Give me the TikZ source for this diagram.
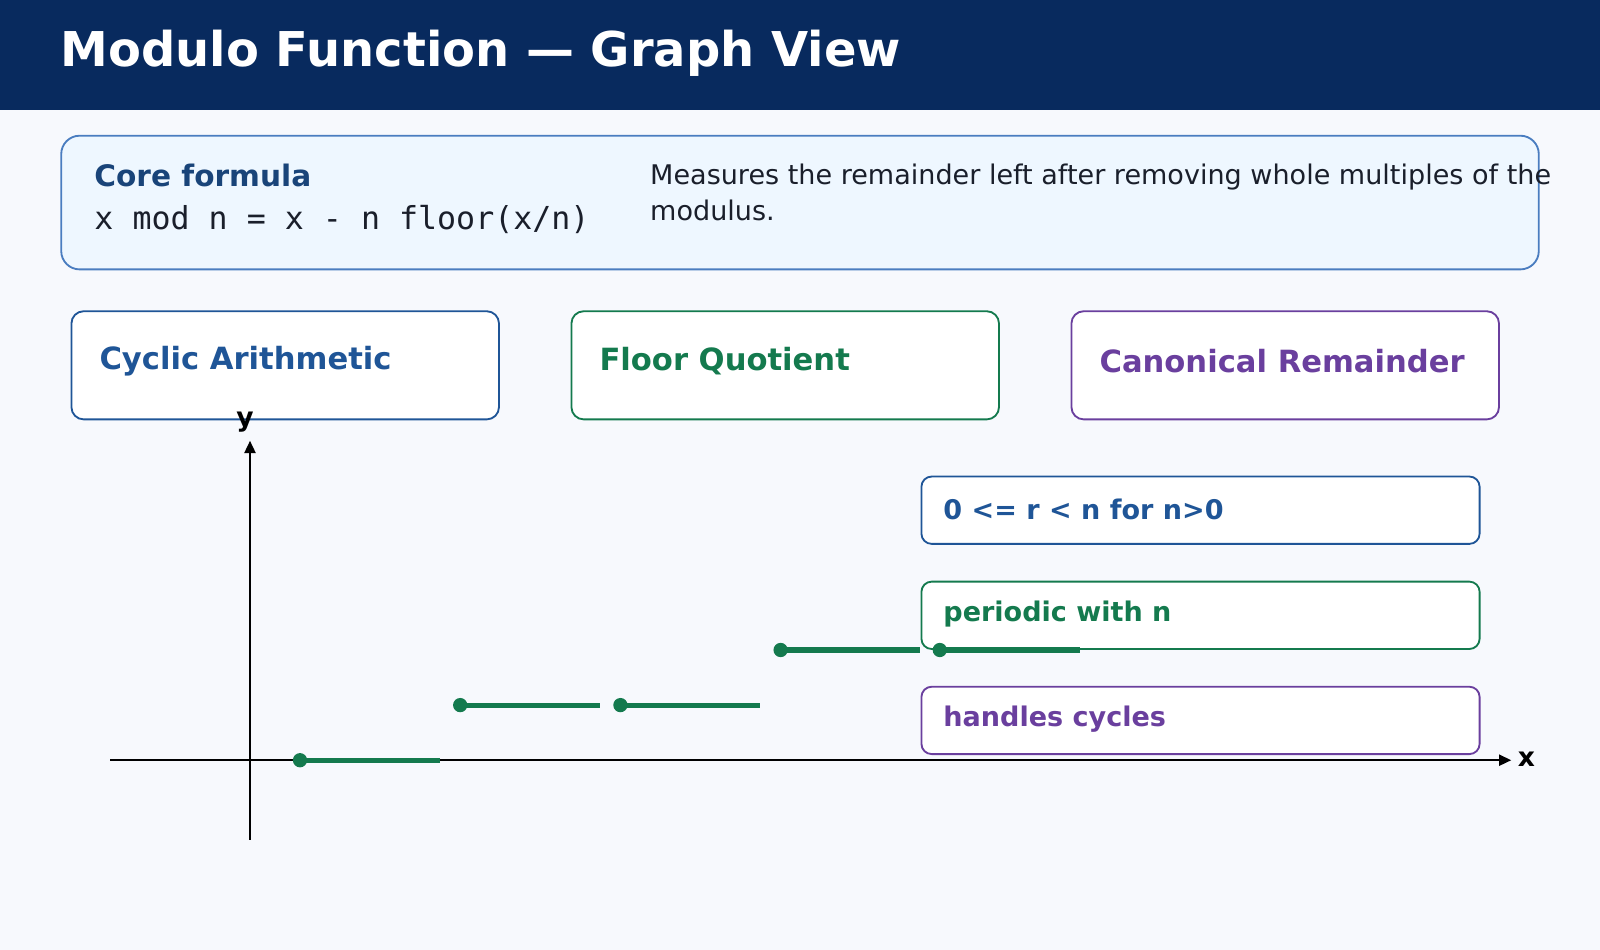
\documentclass[tikz,border=0pt]{standalone}
\usepackage{fontspec}
\setmainfont{DejaVu Sans}
\setmonofont{DejaVu Sans Mono}
\usetikzlibrary{arrows.meta}
\definecolor{navy}{HTML}{082A5E}
\definecolor{bg}{HTML}{F7F9FD}
\definecolor{corefill}{HTML}{EEF7FF}
\definecolor{coreline}{HTML}{4A7DC0}
\definecolor{cblue}{HTML}{1F5597}
\definecolor{cgreen}{HTML}{147A4E}
\definecolor{cpurple}{HTML}{6A3F9E}
\definecolor{dtext}{HTML}{1A1F2B}
\tikzset{
  card/.style={draw=#1, fill=white, line width=1.8pt, rounded corners=12pt},
  cardlabel/.style={anchor=west, text=#1, font=\fontsize{30}{34}\selectfont\bfseries},
  pill/.style={draw=#1, fill=white, line width=1.8pt, rounded corners=10pt},
  pilllabel/.style={anchor=west, text=#1, font=\fontsize{26.5}{30}\selectfont\bfseries},
  seg/.style={line width=5pt, cgreen},
  dot/.style={circle, fill=cgreen, inner sep=0pt, minimum size=14pt},
  axis/.style={line width=1.6pt, black, -{Triangle[length=12pt,width=11pt]}}
}
\begin{document}
\begin{tikzpicture}[x=1pt,y=-1pt]
\useasboundingbox (0,0) rectangle (1568,931);
\fill[bg] (0,0) rectangle (1568,931);
\fill[navy] (0,0) rectangle (1568,108);
\node[anchor=west, text=white, font=\fontsize{47}{52}\selectfont\bfseries] (title) at (56,52) {Modulo Function — Graph View};

\draw[draw=coreline, fill=corefill, line width=1.8pt, rounded corners=18pt] (60,133) rectangle (1508,264);
\node[anchor=west, text=cblue!80!black, font=\fontsize{29}{33}\selectfont\bfseries] (coreh) at (89,172) {Core formula};
\node[anchor=west, text=dtext, font=\fontsize{31}{35}\selectfont\ttfamily] (coref) at (89,215) {x mod n = x - n floor(x/n)};
\node[anchor=north west, text=dtext, font=\fontsize{26.5}{36}\selectfont, align=left, inner sep=0pt] (desc) at (637,160) {Measures the remainder left after removing whole multiples of the\\modulus.};

\draw[card=cblue] (70,305) rectangle (489,411);
\node[cardlabel=cblue] (c1) at (94,354) {Cyclic Arithmetic};
\draw[card=cgreen] (560,305) rectangle (979,411);
\node[cardlabel=cgreen] (c2) at (584,354) {Floor Quotient};
\draw[card=cpurple] (1050,305) rectangle (1469,411);
\node[cardlabel=cpurple] (c3) at (1074,354) {Canonical Remainder};

\coordinate (ybot) at (245,823);
\coordinate (ytop) at (245,432);
\coordinate (xl) at (108,745);
\coordinate (xr) at (1481,745);
\draw[axis] (ybot) -- (ytop);
\draw[axis] (xl) -- (xr);
\node[font=\fontsize{26}{30}\selectfont\bfseries] (ylab) at (240,414) {y};
\node[font=\fontsize{26}{30}\selectfont\bfseries] (xlab) at (1496,744) {x};

\draw[pill=cblue] (903,467) rectangle (1450,533);
\node[pilllabel=cblue] (p1) at (921,499) {0 <= r < n for n>0};
\draw[pill=cgreen] (903,570) rectangle (1450,636);
\node[pilllabel=cgreen] (p2) at (921,602) {periodic with n};
\draw[pill=cpurple] (903,673) rectangle (1450,739);
\node[pilllabel=cpurple] (p3) at (921,705) {handles cycles};

\foreach \a/\b/\y [count=\i] in {294/431/745, 451/588/691, 608/745/691, 765/902/637, 921/1058/637}{
  \node[dot] (d\i) at (\a,\y) {};
  \coordinate (e\i) at (\b,\y);
  \draw[seg] (d\i.center) -- (e\i);
}
\end{tikzpicture}
\end{document}
